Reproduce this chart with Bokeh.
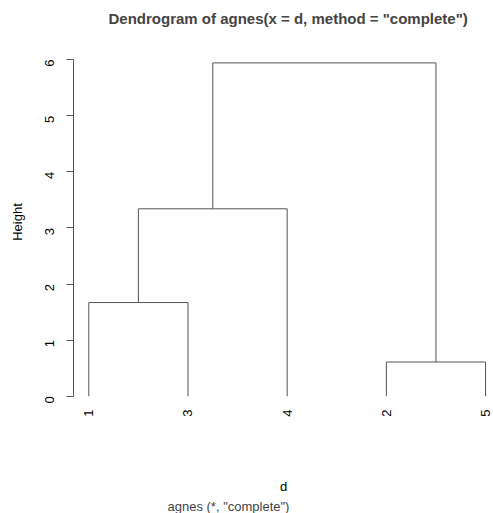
import math
from bokeh.plotting import figure
from bokeh.models import Range1d, FixedTicker, Title, LinearAxis
from bokeh.embed import file_html
from bokeh.resources import INLINE

# --- data ---
leaf_order = ["1", "3", "4", "2", "5"]          # leaves in plotting order
merge_a = ["1", "2", "m1", "m3"]                 # merges (children)
merge_b = ["3", "5", "4", "m2"]
merge_h = [1.67, 0.61, 3.34, 5.94]               # merge heights
y_ticks = [0, 1, 2, 3, 4, 5, 6]

# --- build dendrogram segments from the merge structure ---
pos = {lab: i + 1 for i, lab in enumerate(leaf_order)}
hgt = {lab: 0.0 for lab in leaf_order}
x0, y0, x1, y1 = [], [], [], []
for k, (a, b, h) in enumerate(zip(merge_a, merge_b, merge_h)):
    xa_, xb_ = pos[a], pos[b]
    x0 += [xa_, xb_]; y0 += [hgt[a], hgt[b]]
    x1 += [xa_, xb_]; y1 += [h, h]
    x0.append(xa_); y0.append(h); x1.append(xb_); y1.append(h)
    name = "m%d" % (k + 1)
    pos[name] = (xa_ + xb_) / 2.0
    hgt[name] = h

FONT = "Liberation Sans"
LINE = "#555555"

p = figure(width=493, height=513, output_backend="svg", toolbar_location=None,
           x_range=Range1d(0.8457, 5.080), y_range=Range1d(-0.040, 6.25),
           x_axis_location=None, y_axis_location=None,
           min_border_left=73, min_border_right=0, min_border_top=45, min_border_bottom=109)
p.outline_line_color = None
p.xgrid.visible = False
p.ygrid.visible = False
p.background_fill_color = "white"
p.border_fill_color = "white"

p.segment(x0=x0, y0=y0, x1=x1, y1=y1, line_color=LINE, line_width=1)

# y axis
ya = LinearAxis(ticker=FixedTicker(ticks=y_ticks), bounds=(0, 6))
ya.axis_line_color = LINE
ya.major_tick_line_color = LINE
ya.major_tick_out = 7
ya.major_tick_in = 0
ya.minor_tick_line_color = None
ya.major_label_orientation = math.pi / 2
ya.major_label_text_font = FONT
ya.major_label_text_font_size = "13px"
ya.major_label_text_color = "black"
ya.major_label_standoff = 17
ya.axis_label = "Height"
ya.axis_label_text_font = FONT
ya.axis_label_text_font_size = "13px"
ya.axis_label_text_font_style = "normal"
ya.axis_label_text_color = "black"
ya.axis_label_standoff = 13
p.add_layout(ya, "left")

# x axis: leaf labels, with "d" as the axis label
xa = LinearAxis(ticker=FixedTicker(ticks=[pos[l] for l in leaf_order]))
xa.major_label_overrides = {pos[l]: l for l in leaf_order}
xa.axis_line_color = None
xa.major_tick_line_color = None
xa.major_tick_out = 0
xa.major_tick_in = 0
xa.minor_tick_line_color = None
xa.major_label_orientation = math.pi / 2
xa.major_label_text_font = FONT
xa.major_label_text_font_size = "13px"
xa.major_label_text_color = "black"
xa.major_label_standoff = 11
xa.axis_label = "d"
xa.axis_label_text_font = FONT
xa.axis_label_text_font_size = "13px"
xa.axis_label_text_font_style = "normal"
xa.axis_label_text_color = "black"
xa.axis_label_standoff = 59
p.add_layout(xa, "below")

t3 = Title(text='agnes (*, "complete")', align="left", offset=94, text_font=FONT,
           text_font_size="13px", text_font_style="normal", standoff=0)
p.add_layout(t3, "below")

# spacer between the frame and the main title
spacer = Title(text=" ", text_font_size="1px", standoff=11)
p.add_layout(spacer, "above")
t1 = Title(text='Dendrogram of  agnes(x = d, method = "complete")', align="left",
           offset=35, text_font=FONT, text_font_size="15px", text_font_style="bold",
           standoff=10)
p.add_layout(t1, "above")

open("out.html", "w").write(file_html(p, INLINE))
